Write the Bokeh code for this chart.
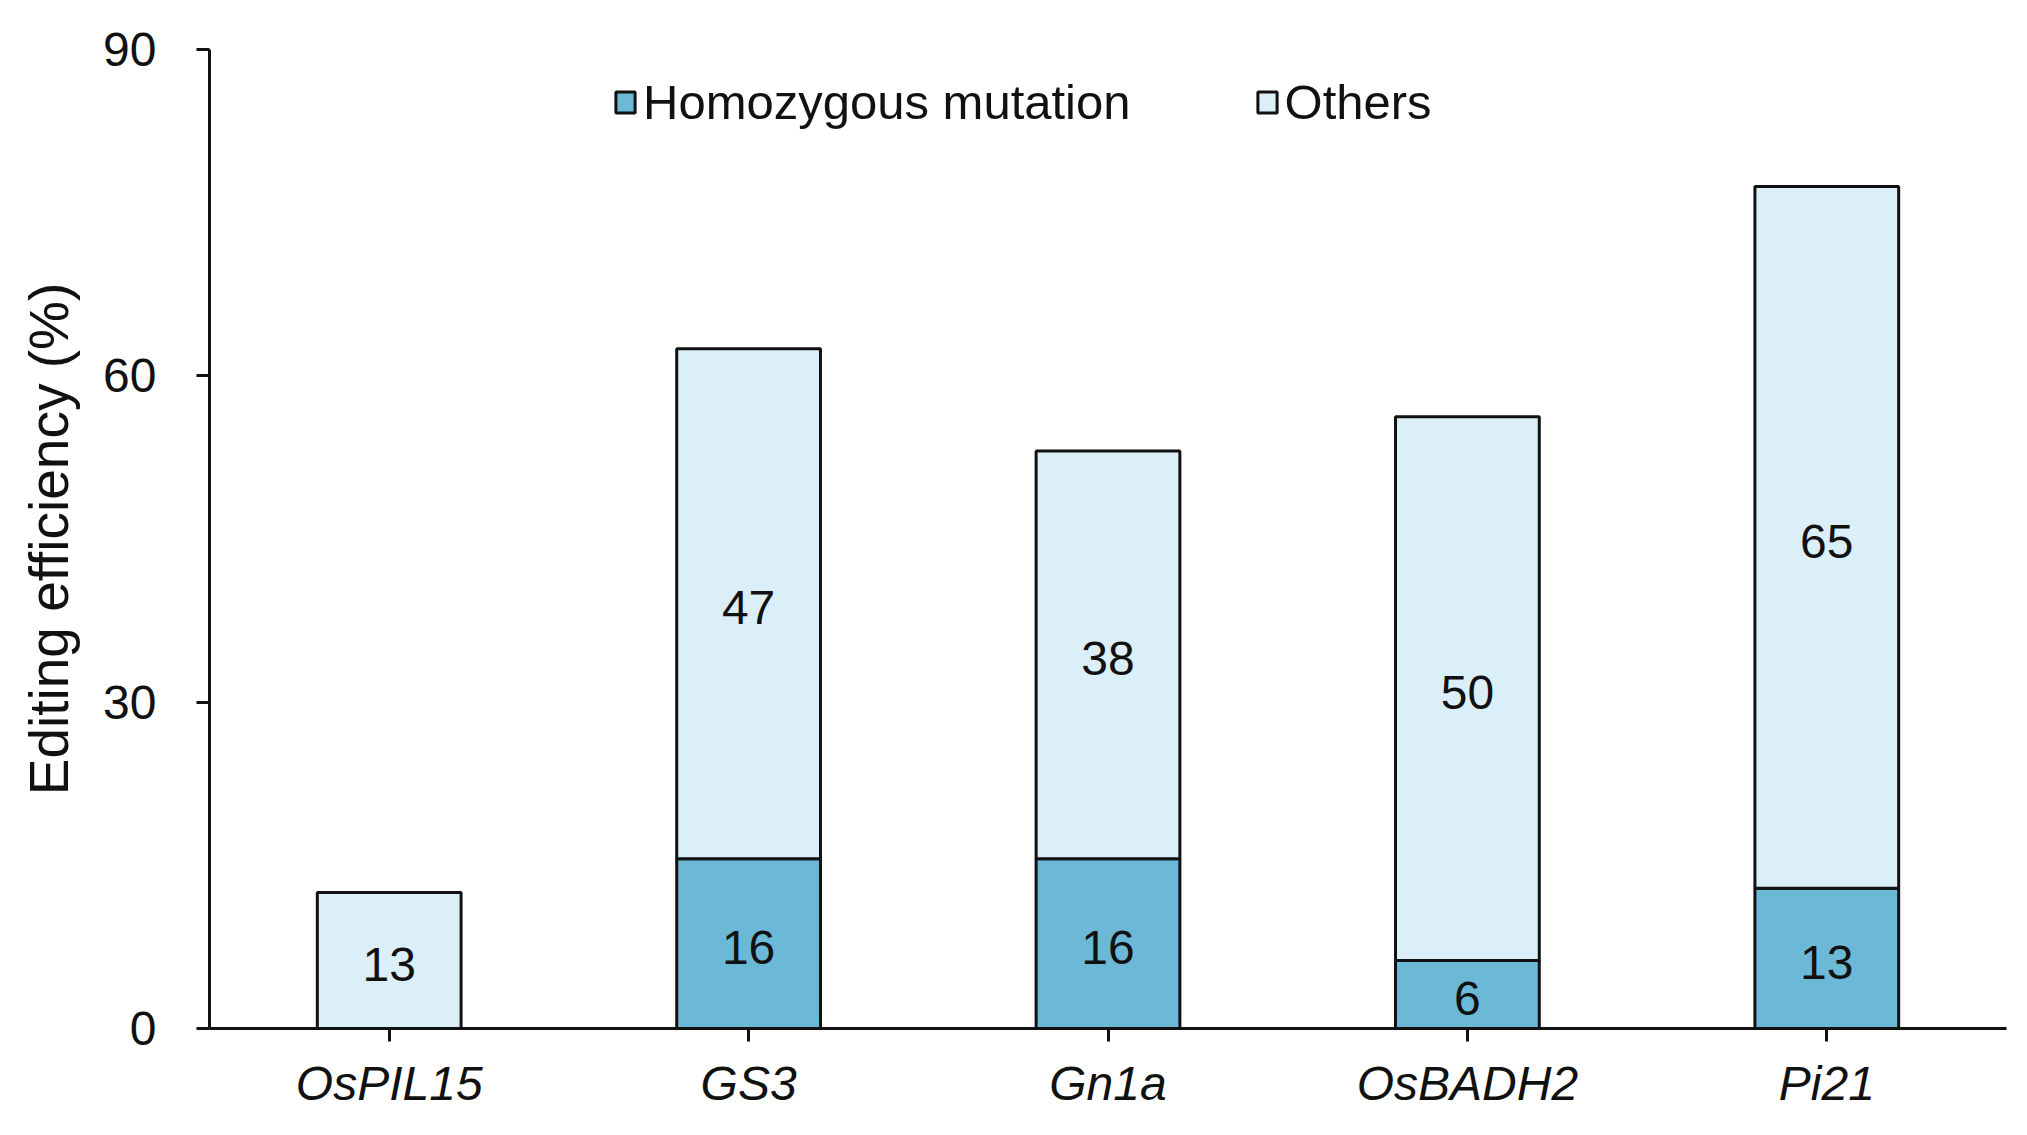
from bokeh.plotting import figure
from bokeh.models import ColumnDataSource, Legend, LegendItem, FixedTicker
from bokeh.embed import file_html
from bokeh.resources import INLINE

# data
genes = ["OsPIL15", "GS3", "Gn1a", "OsBADH2", "Pi21"]
homozygous = [0, 15.6, 15.6, 6.25, 12.9]
others = [12.5, 46.9, 37.5, 50.0, 64.5]
homo_labels = ["", "16", "16", "6", "13"]
other_labels = ["13", "47", "38", "50", "65"]
y_ticks = [0, 30, 60, 90]

homo_color = "#6cb8d7"
other_color = "#daeff8"
font = "Liberation Sans"
fs = "48px"
ink = "#111111"

src = ColumnDataSource(dict(genes=genes, homozygous=homozygous, others=others))

p = figure(x_range=genes, y_range=(0, 90), width=2011, height=1119,
           output_backend="svg", toolbar_location=None,
           min_border_left=209, min_border_right=5,
           min_border_top=49, min_border_bottom=91)
p.x_range.range_padding = 0
p.outline_line_color = None
p.xgrid.visible = False
p.ygrid.visible = False

bars = p.vbar_stack(["homozygous", "others"], x="genes", width=0.4, source=src,
                    fill_color=[homo_color, other_color],
                    line_color=ink, line_width=3)

# value labels in the middle of each segment
homo_mid = [h / 2 for h in homozygous]
other_mid = [h + o / 2 for h, o in zip(homozygous, others)]
lab = ColumnDataSource(dict(x=genes + genes, y=homo_mid + other_mid,
                            t=homo_labels + other_labels))
p.text(x="x", y="y", text="t", source=lab, text_align="center",
       text_baseline="middle", text_font_size=fs, text_color=ink,
       text_font={"value": font}, y_offset=4)

legend = Legend(items=[LegendItem(label="Homozygous mutation", renderers=[bars[0]]),
                       LegendItem(label="Others", renderers=[bars[1]])],
                orientation="horizontal", location=(404, 898),
                border_line_color=None, background_fill_alpha=0,
                padding=0, margin=0, spacing=124,
                glyph_width=24, glyph_height=26, label_standoff=6,
                label_text_font=font, label_text_font_size="49px",
                label_text_color=ink)
p.add_layout(legend)

for ax in (p.xaxis[0], p.yaxis[0]):
    ax.axis_line_width = 3
    ax.axis_line_color = ink
    ax.major_tick_line_width = 3
    ax.major_tick_line_color = ink
    ax.major_tick_in = 0
    ax.major_tick_out = 13
    ax.minor_tick_line_color = None
    ax.major_label_text_font = font
    ax.major_label_text_font_size = fs
    ax.major_label_text_color = ink

p.yaxis.ticker = FixedTicker(ticks=y_ticks)
p.yaxis.major_label_standoff = 40
p.yaxis.axis_label = "Editing efficiency (%)"
p.yaxis.axis_label_text_font = font
p.yaxis.axis_label_text_font_size = "55px"
p.yaxis.axis_label_text_font_style = "normal"
p.yaxis.axis_label_text_color = ink
p.yaxis.axis_label_standoff = 20

p.xaxis.major_label_text_font_style = "italic"
p.xaxis.major_label_standoff = 15

open("out.html", "w").write(file_html(p, INLINE))
